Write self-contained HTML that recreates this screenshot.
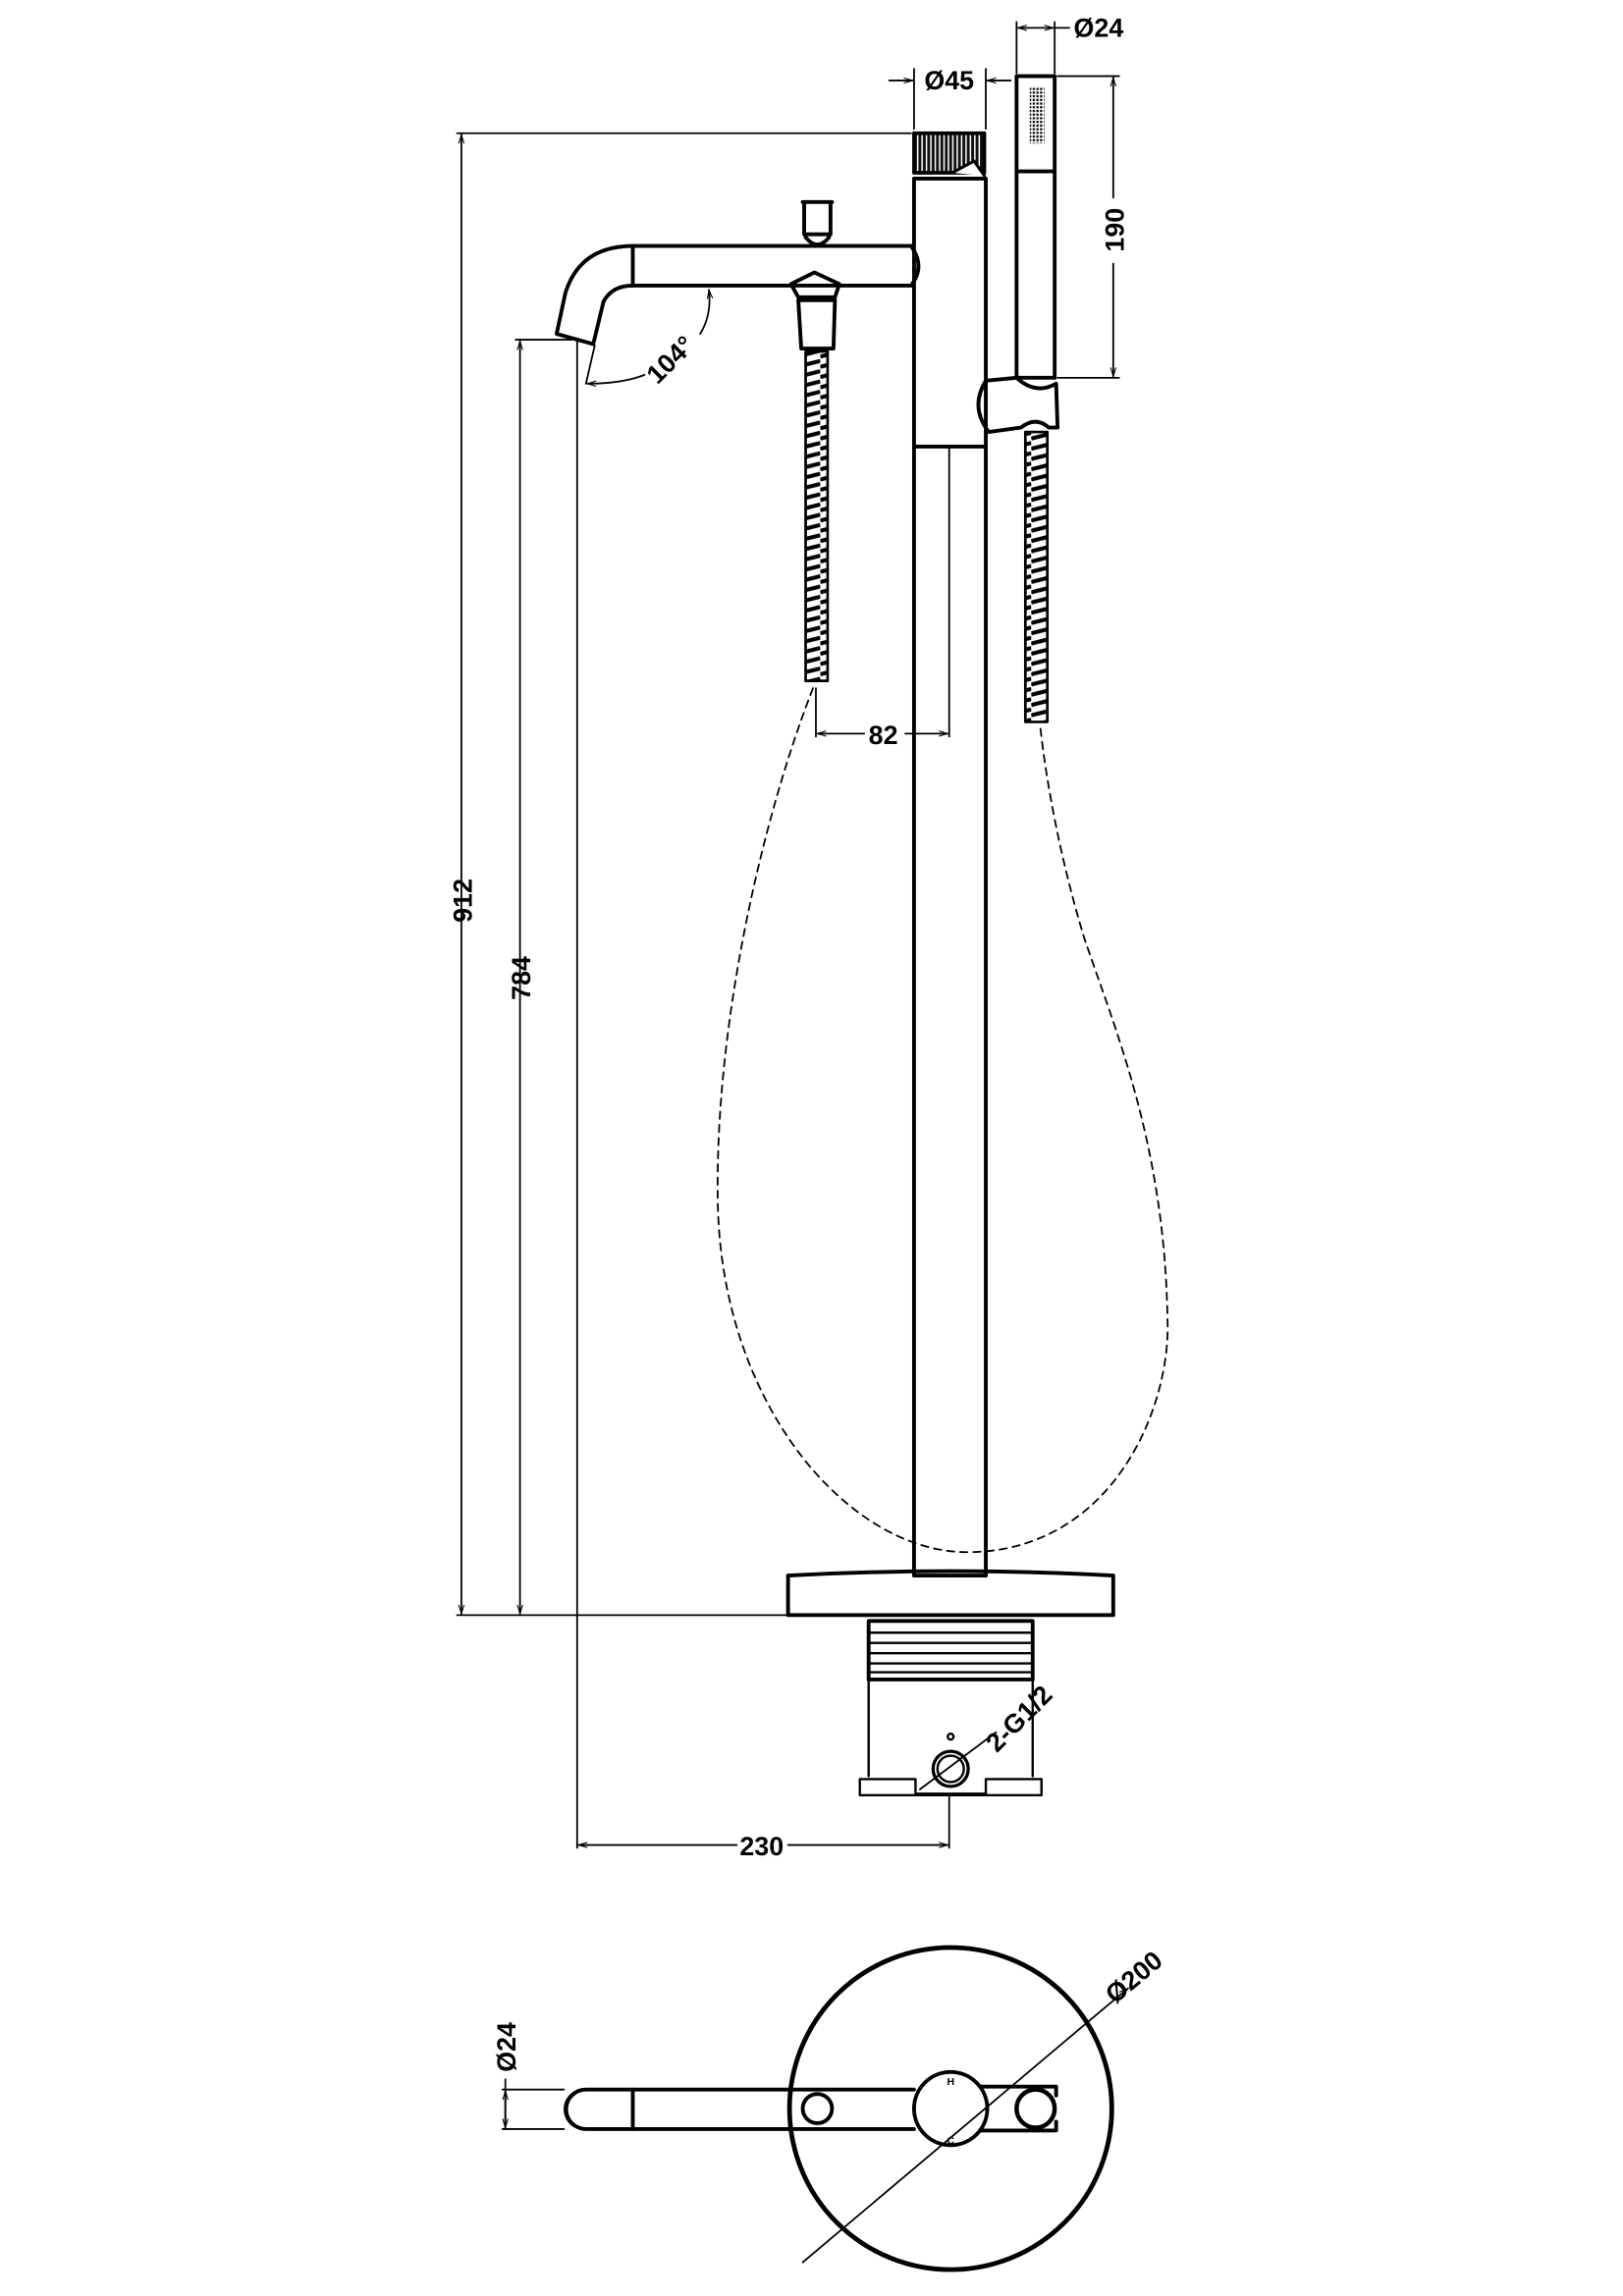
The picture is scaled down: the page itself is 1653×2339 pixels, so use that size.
<!DOCTYPE html>
<html><head><meta charset="utf-8"><style>html,body{margin:0;padding:0;background:#fff}svg{display:block}</style></head>
<body>
<svg width="1653" height="2339" viewBox="0 0 1108 1568" preserveAspectRatio="none" xmlns="http://www.w3.org/2000/svg">
<defs>
<pattern id="hose" width="16" height="7" patternUnits="userSpaceOnUse">
<line x1="0" y1="5.5" x2="16" y2="1.5" stroke="#000" stroke-width="2.8"/>
</pattern>
<pattern id="knurl" width="3" height="10" patternUnits="userSpaceOnUse">
<rect width="3" height="10" fill="#fff"/><rect width="2" height="10" fill="#111"/>
</pattern>
<pattern id="dots" width="2.5" height="2.5" patternUnits="userSpaceOnUse"><rect width="1.5" height="1.5" fill="#000"/></pattern>
<marker id="ar" viewBox="0 0 10 10" refX="10" refY="5" markerWidth="8" markerHeight="5" orient="auto-start-reverse"><path d="M0,2 L10,5 L0,8" fill="none" stroke="#000" stroke-width="1.2"/></marker>
</defs>
<g fill="none" stroke="#000" stroke-linecap="round" stroke-linejoin="round">
<g stroke-width="1.2">
<line x1="312" y1="91" x2="622" y2="91"/>
<line x1="312" y1="1103" x2="538" y2="1103"/>
<line x1="315" y1="92" x2="315" y2="1102" marker-start="url(#ar)" marker-end="url(#ar)"/>
<line x1="352" y1="232" x2="390" y2="232"/>
<line x1="355" y1="233" x2="355" y2="1102" marker-start="url(#ar)" marker-end="url(#ar)"/>
<line x1="394" y1="232" x2="394" y2="1262"/>
<line x1="648" y1="1225" x2="648" y2="1262"/>
<line x1="395" y1="1260" x2="503" y2="1260" marker-start="url(#ar)"/>
<line x1="538" y1="1260" x2="647" y2="1260" marker-end="url(#ar)"/>
<line x1="648" y1="305" x2="648" y2="503"/>
<line x1="557" y1="470" x2="557" y2="503"/>
<line x1="558" y1="501" x2="590" y2="501" marker-start="url(#ar)"/>
<line x1="618" y1="501" x2="647" y2="501" marker-end="url(#ar)"/>
<line x1="624" y1="47" x2="624" y2="88"/>
<line x1="673" y1="47" x2="673" y2="88"/>
<line x1="607" y1="55" x2="623" y2="55" marker-end="url(#ar)"/>
<line x1="690" y1="55" x2="674" y2="55" marker-end="url(#ar)"/>
<line x1="694" y1="15" x2="694" y2="50"/>
<line x1="720" y1="15" x2="720" y2="50"/>
<line x1="695" y1="19" x2="719" y2="19" marker-start="url(#ar)" marker-end="url(#ar)"/>
<line x1="720" y1="19" x2="730" y2="19"/>
<line x1="722" y1="52" x2="764" y2="52"/>
<line x1="722" y1="258" x2="764" y2="258"/>
<line x1="760" y1="53" x2="760" y2="135" marker-start="url(#ar)"/>
<line x1="760" y1="180" x2="760" y2="257" marker-end="url(#ar)"/>
<path d="M401,262 Q425,262 440,256" marker-start="url(#ar)"/>
<path d="M484,198 Q486,215 478,228" marker-start="url(#ar)"/>
<line x1="406" y1="236" x2="400" y2="262"/>
<line x1="343" y1="1427" x2="385" y2="1427"/>
<line x1="343" y1="1454" x2="385" y2="1454"/>
<line x1="345" y1="1420" x2="345" y2="1453" marker-end="url(#ar)"/>
<line x1="345" y1="1428" x2="345" y2="1453" marker-start="url(#ar)"/>
<line x1="752" y1="1373" x2="770" y2="1358" marker-end="url(#ar)"/>
<line x1="628" y1="1222" x2="680" y2="1183"/>
</g>
<path d="M555,470 C520,560 488,700 490,820 C492,960 580,1060 660,1060 C760,1060 800,960 797,900 C795,780 760,700 740,640 C725,590 715,540 710,495" stroke-width="1.2" stroke-dasharray="5,4"/>
<g stroke-width="2.6">
<rect x="624" y="122" width="49" height="954"/>
<line x1="624" y1="305" x2="673" y2="305"/>
<rect x="694" y="52" width="26" height="206"/>
<line x1="694" y1="117" x2="720" y2="117"/>
<line x1="432" y1="168" x2="432" y2="195"/>
<path d="M622,168 L432,168 Q396,168 386,200 L380,228 L405,235 L412,206 Q418,195 432,195 L622,195"/>
<path d="M622,168 Q632,182 622,195"/>
<path d="M548,138 L568,138 M549,138 L549,160 L567,160 L567,138 M550,162 Q558,172 566,162"/>
<path d="M540,194 L556,186 L573,194 L570,203 L545,203 Z M545,205 L570,205 L569,238 L547,238 Z"/>
<path d="M673,260 L694,258 Q707,270 721,262 L722,292 L716,292 Q707,284 697,292 L675,295 Q662,278 673,260 Z"/>
<path d="M538,1076 Q649,1070 760,1076 L760,1103 L538,1103 Z"/>
<rect x="593" y="1107" width="112" height="40"/>
</g>
<rect x="624" y="91" width="48" height="27" fill="url(#knurl)" stroke="#000" stroke-width="2.5"/>
<path d="M650,118 L665,110 L672,120" fill="#fff" stroke-width="2"/>
<rect x="550" y="240" width="15" height="225" fill="url(#hose)" stroke-width="1.8"/>
<rect x="700" y="295" width="15" height="198" fill="url(#hose)" stroke-width="1.8"/>
<g stroke-width="1.6">
<line x1="593" y1="1115" x2="705" y2="1115"/><line x1="593" y1="1122" x2="705" y2="1122"/><line x1="593" y1="1129" x2="705" y2="1129"/><line x1="593" y1="1136" x2="705" y2="1136"/><line x1="593" y1="1142" x2="705" y2="1142"/>
<path d="M593,1147 L593,1213 M705,1147 L705,1213"/>
<path d="M587,1215 L625,1215 L625,1225 L673,1225 L673,1215 L711,1215 L711,1226 L587,1226 Z"/>
<circle cx="649" cy="1208" r="12" stroke-width="2.2"/><circle cx="649" cy="1208" r="9"/>
<circle cx="649" cy="1186" r="2"/>
</g>
<g stroke-width="2.6">
<circle cx="649" cy="1440" r="110" stroke-width="3.2"/>
<path d="M624,1427 L400,1427 A13.5,13.5 0 0 0 400,1454 L624,1454"/>
<path d="M392,1429 A13.5,13.5 0 0 0 392,1452" stroke-width="1.6"/>
<line x1="432" y1="1427" x2="432" y2="1454"/>
<circle cx="558" cy="1440" r="10"/>
<circle cx="649" cy="1440" r="25" fill="#fff"/>
<path d="M670,1425 L721,1425 L721,1431 M721,1449 L721,1455 L670,1455"/>
<circle cx="707" cy="1440" r="13" stroke-width="3"/>
<line x1="548" y1="1545" x2="752" y2="1373" stroke-width="1.2"/>
</g>
</g>
<rect x="703" y="60" width="10" height="38" fill="url(#dots)"/>
<g fill="#000" font-family="Liberation Sans, sans-serif" font-weight="bold" font-size="18">
<text x="0" y="0" transform="translate(322,615) rotate(-90)" text-anchor="middle">912</text>
<text x="0" y="0" transform="translate(362,668) rotate(-90)" text-anchor="middle">784</text>
<text x="0" y="0" transform="translate(767,157) rotate(-90)" text-anchor="middle">190</text>
<text x="520" y="1267" text-anchor="middle">230</text>
<text x="603" y="508" text-anchor="middle">82</text>
<text x="648" y="61" text-anchor="middle">Ø45</text>
<text x="750" y="25" text-anchor="middle">Ø24</text>
<text x="0" y="0" transform="translate(462,250) rotate(-45)" text-anchor="middle">104°</text>
<text x="0" y="0" transform="translate(700,1178) rotate(-45)" text-anchor="middle">2-G1/2</text>
<text x="0" y="0" transform="translate(778,1355) rotate(-40)" text-anchor="middle">Ø200</text>
<text x="0" y="0" transform="translate(352,1398) rotate(-90)" text-anchor="middle">Ø24</text>
<text x="649" y="1424" font-size="7" text-anchor="middle">H</text>
<text x="649" y="1464" font-size="7" text-anchor="middle">C</text>
</g>
</svg>
</body></html>
